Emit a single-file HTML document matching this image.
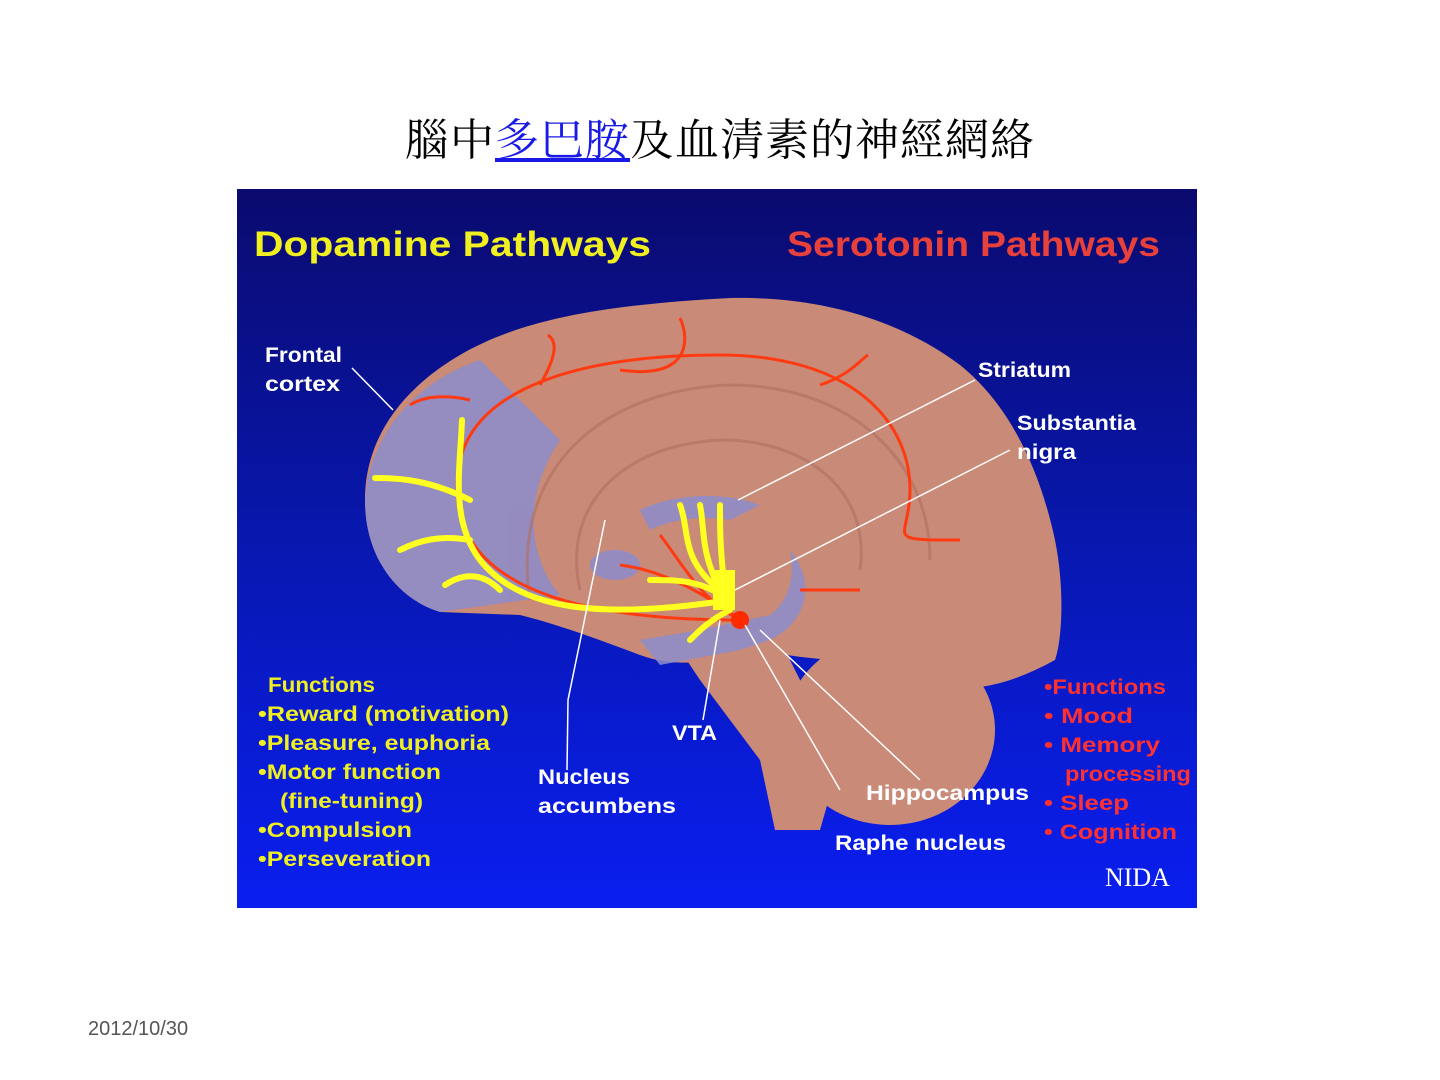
<!DOCTYPE html>
<html><head><meta charset="utf-8"><style>
body{margin:0;width:1440px;height:1080px;background:#fff;position:relative;overflow:hidden;font-family:"Liberation Sans",sans-serif}
.t{position:absolute;top:104px;left:0;width:1440px;text-align:center;font:44px "Noto Serif CJK TC","Noto Serif CJK SC",serif;letter-spacing:1px}
.t span{color:#1a1ae6;text-decoration:underline}
.d{position:absolute;left:88px;top:1018px;font-size:20px;color:#555}
</style></head><body>
<div class="t">腦中<span>多巴胺</span>及血清素的神經網絡</div>
<svg style="position:absolute;left:237px;top:189px" width="960" height="719" viewBox="237 189 960 719">
<defs><linearGradient id="g" x1="0" y1="0" x2="0" y2="1"><stop offset="0" stop-color="#0a0a6e"/><stop offset="0.5" stop-color="#0818b0"/><stop offset="1" stop-color="#0a1ef0"/></linearGradient></defs>
<rect x="237" y="189" width="960" height="719" fill="url(#g)"/>
<g fill="#c98a78">
<path d="M440,612 C400,600 365,560 365,500 C365,440 400,390 460,355 C520,320 600,305 730,298 C820,296 900,320 960,365 C1010,405 1040,470 1055,540 C1065,590 1062,640 1055,660 C1000,690 950,700 900,670 C860,660 800,660 760,650 C720,660 680,670 640,655 C600,640 560,625 520,615 Z"/>
<ellipse cx="890" cy="730" rx="105" ry="95"/>
<path d="M680,650 L780,640 L840,760 L820,830 L775,830 L760,760 L700,680 Z"/>
</g>
<g fill="#8c8ccc" opacity="0.85">
<path d="M480,360 C420,380 370,430 365,500 C365,560 400,600 440,612 L560,595 C530,560 520,500 560,440 Z"/>
<path d="M640,510 C670,495 720,490 760,505 L730,520 C700,515 670,520 650,530 Z"/>
<path d="M790,550 C815,580 810,620 770,640 L740,650 L660,665 L640,640 L700,630 L770,615 C790,600 795,575 790,550 Z"/>
<ellipse cx="615" cy="565" rx="25" ry="15"/>
</g>
<g fill="none" stroke="#b07060" stroke-width="3" opacity="0.6">
<path d="M530,600 C510,470 600,390 730,385 C850,385 930,460 930,560"/>
<path d="M580,590 C560,500 630,440 730,440 C820,445 870,500 860,570"/>
</g>
<g fill="none" stroke="#ff3a10" stroke-width="3">
<path d="M740,620 C520,620 440,560 460,460 C480,380 600,355 720,355 C850,355 910,420 910,490 C910,540 880,540 960,540"/>
<path d="M540,385 C560,350 555,340 548,335"/><path d="M620,370 C690,380 690,340 680,318"/><path d="M820,385 C850,375 860,360 868,355"/>
<path d="M470,400 C450,395 425,395 410,405"/><path d="M740,620 C700,600 680,560 660,535"/><path d="M740,620 C700,590 660,570 620,565"/><path d="M800,590 L860,590"/>
</g>
<circle cx="740" cy="620" r="9" fill="#ff2a00"/>
<g fill="none" stroke="#ffff20" stroke-width="6" stroke-linecap="round">
<path d="M730,600 C600,620 520,610 480,560 C450,520 460,470 462,420"/>
<path d="M470,500 C430,480 400,478 375,478"/><path d="M470,540 C440,535 420,540 400,550"/><path d="M500,590 C480,570 460,575 445,585"/>
<path d="M720,590 C680,560 690,530 680,505"/><path d="M720,590 C700,550 705,530 700,505"/><path d="M725,590 C720,550 720,530 720,505"/>
<path d="M730,600 C700,580 680,580 650,580"/><path d="M730,610 C710,620 700,630 690,640"/>
</g>
<rect x="713" y="570" width="22" height="40" fill="#ffff20"/>
<g stroke="#fff" stroke-width="1.5" fill="none">
<path d="M352,368 L393,410"/><path d="M975,380 L738,500"/><path d="M1010,450 L735,590"/>
<path d="M605,520 L568,700 L567,770"/><path d="M720,620 L703,720"/><path d="M745,625 L840,790"/><path d="M760,630 L920,780"/>
</g>
<g font-weight="bold" font-family="Liberation Sans,sans-serif" lengthAdjust="spacingAndGlyphs">
<text x="254" y="256" font-size="35" fill="#f0f020" textLength="397" lengthAdjust="spacingAndGlyphs">Dopamine Pathways</text>
<text x="787" y="256" font-size="35" fill="#e8403a" textLength="373" lengthAdjust="spacingAndGlyphs">Serotonin Pathways</text>
<g fill="#fff" font-size="21">
<text x="265" y="362" textLength="77" lengthAdjust="spacingAndGlyphs">Frontal</text><text x="265" y="391" textLength="75" lengthAdjust="spacingAndGlyphs">cortex</text>
<text x="978" y="377" textLength="93" lengthAdjust="spacingAndGlyphs">Striatum</text><text x="1017" y="430" textLength="119" lengthAdjust="spacingAndGlyphs">Substantia</text><text x="1017" y="459" textLength="59" lengthAdjust="spacingAndGlyphs">nigra</text>
<text x="672" y="740" textLength="45" lengthAdjust="spacingAndGlyphs">VTA</text><text x="538" y="784" textLength="92" lengthAdjust="spacingAndGlyphs">Nucleus</text><text x="538" y="813" textLength="138" lengthAdjust="spacingAndGlyphs">accumbens</text>
<text x="866" y="800" textLength="163" lengthAdjust="spacingAndGlyphs">Hippocampus</text><text x="835" y="850" textLength="171" lengthAdjust="spacingAndGlyphs">Raphe nucleus</text></g>
<g fill="#f0f020" font-size="21">
<text x="268" y="692" textLength="107" lengthAdjust="spacingAndGlyphs">Functions</text>
<text x="258" y="721" textLength="251" lengthAdjust="spacingAndGlyphs">•Reward (motivation)</text>
<text x="258" y="750" textLength="232" lengthAdjust="spacingAndGlyphs">•Pleasure, euphoria</text>
<text x="258" y="779" textLength="183" lengthAdjust="spacingAndGlyphs">•Motor function</text>
<text x="280" y="808" textLength="143" lengthAdjust="spacingAndGlyphs">(fine-tuning)</text>
<text x="258" y="837" textLength="154" lengthAdjust="spacingAndGlyphs">•Compulsion</text>
<text x="258" y="866" textLength="173" lengthAdjust="spacingAndGlyphs">•Perseveration</text></g>
<g fill="#ff3030" font-size="21">
<text x="1044" y="694" textLength="122" lengthAdjust="spacingAndGlyphs">•Functions</text>
<text x="1044" y="723" textLength="89" lengthAdjust="spacingAndGlyphs">•  Mood</text>
<text x="1044" y="752" textLength="116" lengthAdjust="spacingAndGlyphs">•  Memory</text>
<text x="1065" y="781" textLength="126" lengthAdjust="spacingAndGlyphs">processing</text>
<text x="1044" y="810" textLength="85" lengthAdjust="spacingAndGlyphs">•  Sleep</text>
<text x="1044" y="839" textLength="133" lengthAdjust="spacingAndGlyphs">•  Cognition</text></g>
</g>
<text x="1105" y="886" font-family="Liberation Serif,serif" font-size="26" fill="#fff">NIDA</text>
</svg>
<div class="d">2012/10/30</div>
</body></html>
